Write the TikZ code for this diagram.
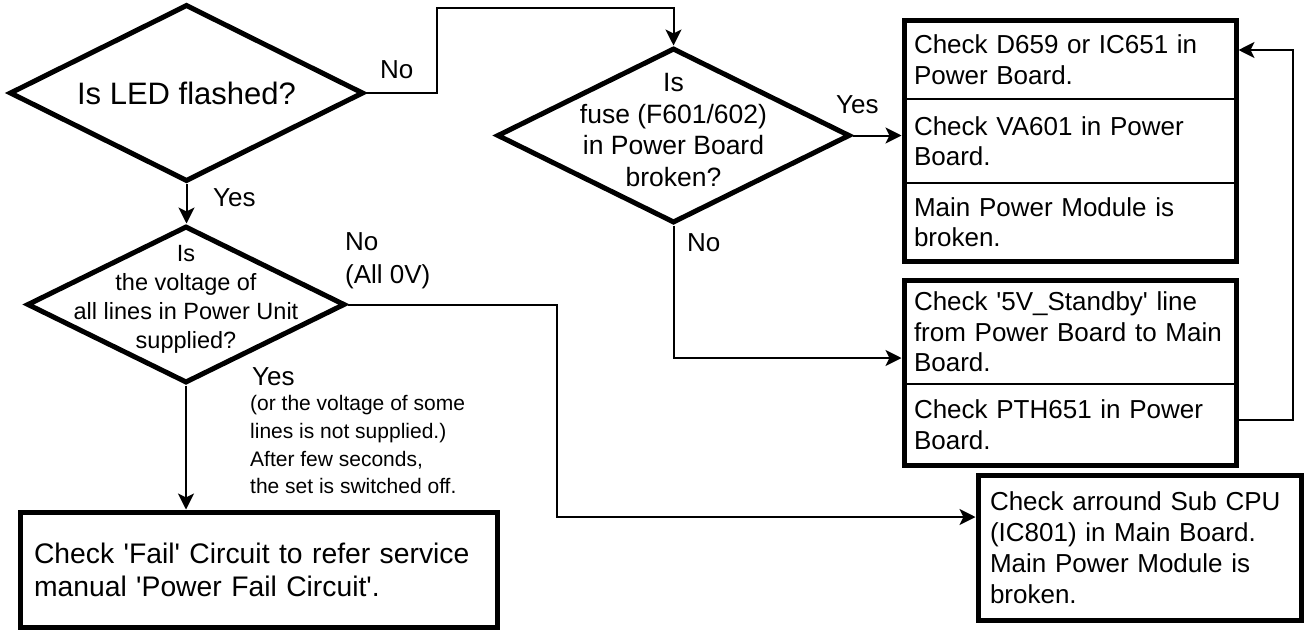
\documentclass[tikz,border=0pt]{standalone}
\usepackage{fontspec}
\setmainfont{Liberation Sans}
\usetikzlibrary{shapes.geometric,arrows.meta,fit}
\newcommand{\sq}{\textquotesingle}
\begin{document}
\begin{tikzpicture}[x=1pt,y=-1pt,
  decision/.style={diamond,draw,line width=5pt,inner sep=0pt},
  dtext/.style={align=center,inner sep=0pt},
  part/.style={draw,rectangle,line width=2pt,outer sep=0pt,align=left,text width=312pt,inner xsep=10pt,inner ysep=0pt,font=\fontsize{26}{30.5}\selectfont},
  frame/.style={draw,rectangle,line width=5pt,inner sep=0pt},
  endbox/.style={draw,rectangle,line width=5pt,align=left,inner ysep=0pt},
  tag/.style={inner sep=0pt,font=\fontsize{26}{33}\selectfont},
  arr/.style={line width=2pt,-{Stealth[length=16pt,width=16pt,inset=4pt]}}]
  \useasboundingbox (0,0) rectangle (1306,630);
  % decisions
  \node[decision,minimum width=354pt,minimum height=177pt] (led) at (186.5,93) {};
  \node[dtext,font=\fontsize{31}{36}\selectfont] (ledtxt) at (led) {Is LED flashed?};
  \node[decision,minimum width=353pt,minimum height=175pt] (fuse) at (673.5,135.5) {};
  \node[dtext,font=\fontsize{26.5}{31.7}\selectfont] (fusetxt) at (673.5,130) {Is\\fuse (F601/602)\\in Power Board\\broken?};
  \node[decision,minimum width=318pt,minimum height=157pt] (volt) at (186,304.5) {};
  \node[dtext,font=\fontsize{23.5}{29}\selectfont] (volttxt) at (186,299) {Is\\the voltage of\\all lines in Power Unit\\supplied?};
  % checks on the right
  \node[part,minimum height=79pt] (d659) at (1070,59.5) {Check D659 or IC651 in\\Power Board.};
  \node[part,minimum height=84pt] (va601) at (1070,141) {Check VA601 in Power\\Board.};
  \node[part,minimum height=78pt] (mpm) at (1070,222) {Main Power Module is\\broken.};
  \node[frame,fit=(d659)(mpm)] (grp1) {};
  \node[part,minimum height=104pt] (stby) at (1070,332) {Check \sq 5V\_Standby\sq\ line\\from Power Board to Main\\Board.};
  \node[part,minimum height=81pt] (pth) at (1070,424.5) {Check PTH651 in Power\\Board.};
  \node[frame,fit=(stby)(pth)] (grp2) {};
  \node[endbox,minimum width=323pt,minimum height=145pt,text width=299pt,inner xsep=12pt,font=\fontsize{26}{31}\selectfont] (cpu) at (1139.5,547.5) {Check arround Sub CPU\\(IC801) in Main Board.\\Main Power Module is\\broken.};
  \node[endbox,minimum width=477pt,minimum height=115pt,text width=449pt,inner xsep=14pt,font=\fontsize{28.3}{33}\selectfont] (fail) at (258.5,569.5) {Check \sq Fail\sq\ Circuit to refer service\\manual \sq Power Fail Circuit\sq.};
  % answers
  \node[tag,anchor=west] (no1) at (380,70) {No};
  \node[tag,anchor=west] (yes1) at (213,198) {Yes};
  \node[tag,anchor=west] (yes2) at (836,105) {Yes};
  \node[tag,anchor=west] (no2) at (687,243) {No};
  \node[tag,anchor=west,align=left] (no3) at (345,261) {No\\(All 0V)};
  \node[tag,anchor=west] (yes3) at (252,377) {Yes};
  \node[anchor=north west,inner sep=0pt,align=left,font=\fontsize{21}{27.8}\selectfont] (note) at (250,395) {(or the voltage of some\\lines is not supplied.)\\After few seconds,\\the set is switched off.};
  % connectors
  \coordinate (ledno) at (437,8);
  \coordinate (voltno) at (557,517);
  \coordinate (fuseno) at (673.5,358);
  \coordinate (loopa) at (1293,420);
  \coordinate (loopb) at (1293,50);
  \draw[arr] (led.east) -| (ledno) -| (fuse.north);
  \draw[arr] (led.south) -- (led.south |- volt.north);
  \draw[arr] (volt.south) -- (volt.south |- fail.north);
  \draw[arr] (volt.east) -| (voltno) -- (voltno -| cpu.west);
  \draw[arr] (fuse.east) -- (fuse.east -| grp1.west);
  \draw[arr] (fuse.south) -- (fuseno) -- (fuseno -| grp2.west);
  \draw[arr] (loopa -| grp2.east) -- (loopa) -- (loopb) -- (loopb -| grp1.east);
\end{tikzpicture}
\end{document}
